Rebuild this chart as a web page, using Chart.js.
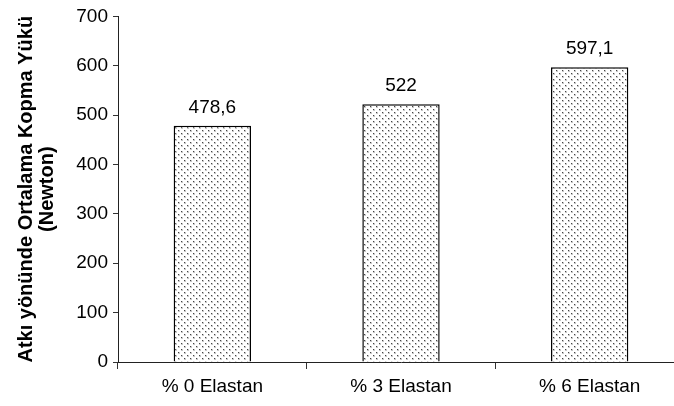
<!DOCTYPE html>
<html>
<head>
<meta charset="utf-8">
<script src="https://cdn.jsdelivr.net/npm/chart.js@4/dist/chart.umd.min.js"></script>
<style>
  html, body { margin: 0; padding: 0; background: #fff; overflow: hidden; width: 674px; height: 406px; }
  #wrap { width: 690px; height: 406px; }
</style>
</head>
<body>
<div id="wrap"><canvas id="c" width="690" height="406"></canvas></div>
<script>
// Warp-direction average breaking load for three elastane ratios
const categories = ['% 0 Elastan', '% 3 Elastan', '% 6 Elastan'];
const breakingLoad = [478.6, 522, 597.1];
const valueLabels = ['478,6', '522', '597,1'];
const yTicks = [0, 100, 200, 300, 400, 500, 600, 700];
const yTitle = ['Atkı yönünde Ortalama Kopma Yükü', '(Newton)'];

const FONT = '"Liberation Sans", Arial, sans-serif';

// Dotted fill used for the bars
function dotPattern() {
  const p = document.createElement('canvas');
  p.width = 6; p.height = 6;
  const g = p.getContext('2d');
  g.fillStyle = '#ffffff';
  g.fillRect(0, 0, 6, 6);
  g.fillStyle = '#c8c8c8';
  g.fillRect(1, 1, 2, 2);
  g.fillRect(4, 4, 2, 2);
  g.fillStyle = '#444444';
  g.fillRect(1, 1, 1, 1);
  g.fillRect(4, 4, 1, 1);
  return g.createPattern(p, 'repeat');
}

// Writes the value text above each bar
const barValues = {
  id: 'barValues',
  afterDatasetsDraw(chart) {
    const ctx = chart.ctx;
    const meta = chart.getDatasetMeta(0);
    ctx.save();
    ctx.font = '19px ' + FONT;
    ctx.fillStyle = '#000';
    ctx.textAlign = 'center';
    ctx.textBaseline = 'alphabetic';
    meta.data.forEach((bar, i) => {
      ctx.fillText(valueLabels[i], bar.x, bar.y - 13);
    });
    ctx.restore();
  }
};

new Chart(document.getElementById('c'), {
  type: 'bar',
  data: {
    labels: categories,
    datasets: [{
      data: breakingLoad,
      backgroundColor: dotPattern(),
      borderColor: '#000',
      borderWidth: 1.5,
      barPercentage: 0.41,
      categoryPercentage: 1.0
    }]
  },
  plugins: [barValues],
  options: {
    responsive: false,
    animation: false,
    layout: { padding: { left: 16, top: 13, right: 6, bottom: 0 } },
    plugins: { legend: { display: false }, tooltip: { enabled: false } },
    scales: {
      x: {
        offset: true,
        grid: { offset: true, drawOnChartArea: false, tickLength: 7, color: '#333', lineWidth: 1 },
        border: { color: '#222', width: 1 },
        ticks: { color: '#000', font: { family: FONT, size: 19 }, padding: 6, maxRotation: 0 },
        afterFit(scale) { scale.height = 44; }
      },
      y: {
        min: 0,
        max: 700,
        afterBuildTicks(scale) { scale.ticks = yTicks.map(v => ({ value: v })); },
        grid: { drawOnChartArea: false, tickLength: 5, color: '#333', lineWidth: 1 },
        border: { color: '#222', width: 1 },
        ticks: { color: '#000', font: { family: FONT, size: 19 }, padding: 5 },
        title: {
          display: true,
          text: yTitle,
          color: '#000',
          font: { family: FONT, size: 20, weight: 'bold', lineHeight: 1.05 },
          padding: { top: 0, bottom: 4 }
        },
        afterFit(scale) { scale.width = 102; }
      }
    }
  }
});
</script>
</body>
</html>
